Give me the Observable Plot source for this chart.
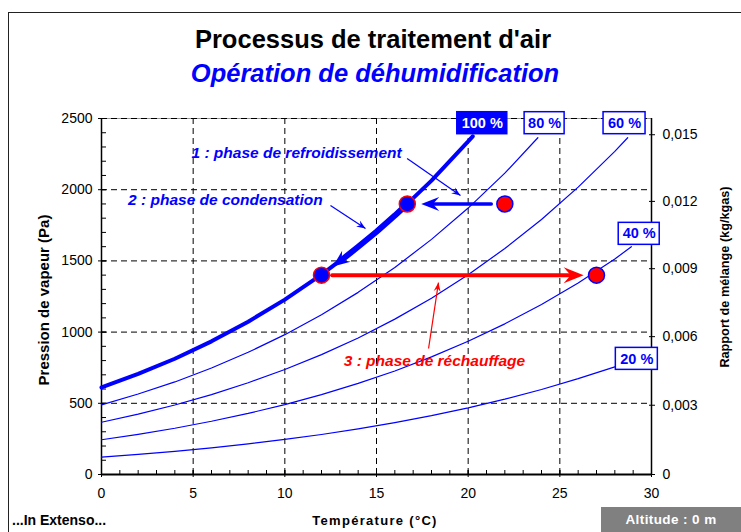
<!DOCTYPE html>
<html><head><meta charset="utf-8">
<script src="https://cdn.jsdelivr.net/npm/d3@7"></script>
<script src="https://cdn.jsdelivr.net/npm/@observablehq/plot@0.6"></script>
<style>
body{margin:0;background:#fff;}
#wrap{position:relative;width:741px;height:532px;overflow:hidden;font-family:"Liberation Sans",Arial,sans-serif;background:#fff;}
.abs{position:absolute;white-space:nowrap;}
#frame{left:8px;top:12px;width:800px;height:600px;border:1.5px solid #222;box-sizing:border-box;}
#title{left:0;width:746px;top:26px;text-align:center;font-weight:bold;font-size:25.5px;line-height:26px;color:#000;}
#sub{left:0;width:750px;top:60px;text-align:center;font-weight:bold;font-style:italic;font-size:25.5px;line-height:26px;color:#0000ff;}
.rot{transform:translate(-50%,-50%) rotate(-90deg);font-weight:bold;color:#000;}
#xlab{left:375px;top:520px;transform:translate(-50%,-50%);font-weight:bold;font-size:13px;letter-spacing:1.3px;}
#ext{left:12px;top:512px;font-weight:bold;font-size:14px;line-height:16px;}
#alt{left:601px;top:507px;width:140px;height:25px;background:#808080;color:#fff;font-weight:bold;font-size:13.5px;line-height:25px;text-align:center;letter-spacing:0.4px;}
#chart{position:absolute;left:0;top:90px;}
</style>
</head><body>
<div id="wrap">
  <div id="frame" class="abs"></div>
  <div id="title" class="abs">Processus de traitement d'air</div>
  <div id="sub" class="abs">Opération de déhumidification</div>
  <div id="chart"></div>
  <div class="abs rot" style="left:43px;top:300px;font-size:15px;">Pression de vapeur (Pa)</div>
  <div class="abs rot" style="left:725px;top:277px;font-size:12.7px;">Rapport de mélange (kg/kgas)</div>
  <div id="xlab" class="abs">Température (°C)</div>
  <div id="ext" class="abs">...In Extenso...</div>
  <div id="alt" class="abs">Altitude : 0 m</div>
</div>
<script>
// ---------- DATA ----------
const hrLabels = ["100 %", "80 %", "60 %", "40 %", "20 %"];
const t100 = [0, 2, 4, 6, 8, 10, 12, 14, 16, 18, 20, 20.25];
const p100 = [611, 706, 813, 935, 1073, 1228, 1403, 1599, 1818, 2064, 2339, 2375];
const t80 = [0, 2, 4, 6, 8, 10, 12, 14, 16, 18, 20, 22, 23.8];
const p80 = [489, 565, 650, 748, 858, 982, 1122, 1279, 1454, 1651, 1871, 2116, 2365];
const t60 = [0, 2, 4, 6, 8, 10, 12, 14, 16, 18, 20, 22, 24, 26, 28, 28.7];
const p60 = [367, 424, 488, 561, 644, 737, 842, 959, 1091, 1238, 1403, 1587, 1791, 2018, 2269, 2365];
const t40 = [0, 2, 4, 6, 8, 10, 12, 14, 16, 18, 20, 22, 24, 26, 28, 28.9];
const p40 = [244, 282, 325, 374, 429, 491, 561, 640, 727, 826, 936, 1058, 1194, 1345, 1513, 1600];
const t20 = [0, 2, 4, 6, 8, 10, 12, 14, 16, 18, 20, 22, 24, 26, 28];
const p20 = [122, 141, 163, 187, 215, 246, 281, 320, 364, 413, 468, 529, 597, 673, 756];

// process points
const ptT = [22, 16.68, 12, 27];
const ptP = [1900, 1900, 1400, 1400];
const ptFill = ["red", "blue", "blue", "red"];
const ptStroke = ["blue", "red", "red", "blue"];

// process arrows
const arrow1T = [21.26, 17.9], arrow1P = [1900, 1900], arrow1Tip = [17.44, 1900];
const arrow2T = [16.68, 16, 15, 14, 13.2], arrow2P = [1900, 1818, 1705, 1599, 1517], arrow2Tip = [12.62, 1460];
const arrow3T = [12.58, 25.8], arrow3P = [1400, 1400], arrow3Tip = [26.3, 1400];

// annotation pointers [x1, y1, x2, y2]
const pointers = [[16.67, 2219, 19.58, 1959], [12.49, 1889, 14.4, 1728], [17.84, 885, 18.38, 1348]];
const pointerColor = ["blue", "blue", "red"];
const annText = ["1 : phase de refroidissement", "2 : phase de condensation", "3 : phase de réchauffage"];
const annT = [10.64, 6.76, 18.16];
const annP = [2261, 1924, 800];
const annColor = ["blue", "blue", "red"];

// curve label boxes
const boxT = [20.77, 24.17, 28.53, 29.33, 29.2];
const boxP = [2467, 2467, 2467, 1690, 812];
const boxW = [50, 40, 42, 41, 42];

// axes ticks
const xTicks = [0, 5, 10, 15, 20, 25, 30];
const yTicks = [0, 500, 1000, 1500, 2000, 2500];
const wTicks = [0, 0.003, 0.006, 0.009, 0.012, 0.015];
const wLabels = ["0", "0,003", "0,006", "0,009", "0,012", "0,015"];
const patm = 101325;

// ---------- LAYOUT ----------
const W = 741, H = 442, mL = 101, mR = 90, mT = 28, mB = 58;
const pw = W - mL - mR, ph = H - mT - mB;
const kx = pw / 30, ky = ph / 2500;
const blue = "#0000ff", red = "#ff0000";

const curves = [[t100, p100], [t80, p80], [t60, p60], [t40, p40], [t20, p20]]
  .map(([t, p], k) => t.map((x, i) => ({T: x, P: p[i], k})));
const pts = ptT.map((x, i) => ({T: x, P: ptP[i], fill: ptFill[i], stroke: ptStroke[i]}));
const line = (t, p) => t.map((x, i) => ({T: x, P: p[i]}));
const ang = (a, b) => Math.atan2(-(b[1] - a[1]) * ky, (b[0] - a[0]) * kx) * 180 / Math.PI;
const head = (L, Wd) => ({draw(ctx) { ctx.moveTo(0, 0); ctx.lineTo(-L, -Wd); ctx.lineTo(-0.65 * L, 0); ctx.lineTo(-L, Wd); ctx.closePath(); }});
const boxes = boxT.map((x, i) => ({
  x1: x - boxW[i] / 2 / kx, x2: x + boxW[i] / 2 / kx,
  y1: boxP[i] - 11 / ky, y2: boxP[i] + 11 / ky, T: x, P: boxP[i], label: hrLabels[i], k: i
}));
const wPa = wTicks.map(w => w * patm / (0.622 + w));

const minorY = d3.range(0, 2501, 100);
const minorX = d3.range(0, 31, 1);

const chart = Plot.plot({
  width: W, height: H, marginLeft: mL, marginRight: mR, marginTop: mT, marginBottom: mB,
  x: {domain: [0, 30], axis: null},
  y: {domain: [0, 2500], axis: null},
  style: {fontFamily: "Liberation Sans, Arial, sans-serif", background: "transparent"},
  marks: [
    Plot.ruleY([2500], {stroke: "#999", strokeWidth: 1}),
    Plot.ruleX([5, 10, 15, 20, 25], {stroke: "#000", strokeWidth: 1, strokeDasharray: "6,4"}),
    Plot.ruleY([500, 1000, 1500, 2000, 2500], {stroke: "#000", strokeWidth: 1, strokeDasharray: "6,4"}),
    // minor ticks
    Plot.tickY(minorY, {y: d => d, stroke: "#000", insetRight: pw - 5, strokeWidth: 1}),
    Plot.tickY(yTicks, {y: d => d, stroke: "#000", insetRight: pw - 5, insetLeft: -3, strokeWidth: 1}),
    Plot.tickX(minorX, {x: d => d, stroke: "#000", insetTop: ph - 4, strokeWidth: 1}),
    Plot.tickX(xTicks, {x: d => d, stroke: "#000", insetTop: ph - 4, insetBottom: -3, strokeWidth: 1}),
    Plot.tickY(wPa, {y: d => d, stroke: "#000", insetLeft: pw - 2, insetRight: -4, strokeWidth: 1}),
    // axis lines
    Plot.ruleX([0], {stroke: "#000", strokeWidth: 1.5}),
    Plot.ruleX([30], {stroke: "#000", strokeWidth: 1.5}),
    Plot.ruleY([0], {stroke: "#000", strokeWidth: 2}),
    // tick labels
    Plot.axisY({ticks: yTicks, tickFormat: d => String(d), tickSize: 0, tickPadding: 9, fontSize: 14, label: null}),
    Plot.axisX({ticks: xTicks, tickFormat: d => String(d), tickSize: 0, tickPadding: 14, fontSize: 14, label: null}),
    Plot.axisY({anchor: "right", ticks: wPa, tickFormat: (d, i) => wLabels[i], tickSize: 0, tickPadding: 11, fontSize: 14, label: null}),
    // curves
    ...curves.map((c, k) => Plot.line(c, {x: "T", y: "P", stroke: blue, strokeWidth: k === 0 ? 4 : 1.2})),
    // pointers
    Plot.link(pointers, {x1: d => d[0], y1: d => d[1], x2: d => d[2], y2: d => d[3], stroke: (d, i) => pointerColor[i], strokeWidth: 1.2}),
    ...pointers.map((d, i) => Plot.dot([d], {x: d => d[2], y: d => d[3], symbol: head(9, 3.5), r: 3, fill: pointerColor[i] === "blue" ? blue : red, stroke: "none", rotate: ang([d[0], d[1]], [d[2], d[3]])})),
    // process arrows
    Plot.line(line(arrow1T, arrow1P), {x: "T", y: "P", stroke: blue, strokeWidth: 3.5}),
    Plot.dot([arrow1Tip], {x: d => d[0], y: d => d[1], symbol: head(18, 7), r: 5, fill: blue, stroke: "none", rotate: 180}),
    Plot.line(line(arrow2T, arrow2P), {x: "T", y: "P", stroke: blue, strokeWidth: 6}),
    Plot.dot([arrow2Tip], {x: d => d[0], y: d => d[1], symbol: head(17, 7), r: 5, fill: blue, stroke: "none",
      rotate: ang([arrow2T[arrow2T.length - 1], arrow2P[arrow2P.length - 1]], arrow2Tip)}),
    Plot.line(line(arrow3T, arrow3P), {x: "T", y: "P", stroke: red, strokeWidth: 4}),
    Plot.dot([arrow3Tip], {x: d => d[0], y: d => d[1], symbol: head(20, 8), r: 5, fill: red, stroke: "none", rotate: 0}),
    // points
    Plot.dot(pts, {x: "T", y: "P", r: 8, fill: d => d.fill === "red" ? red : blue, stroke: d => d.stroke === "red" ? red : blue, strokeWidth: 1.5}),
    // annotation texts
    Plot.text(annText, {x: (d, i) => annT[i], y: (d, i) => annP[i], text: d => d, fill: (d, i) => annColor[i] === "blue" ? blue : red,
      fontSize: 15.5, fontWeight: "bold", fontStyle: "italic", textAnchor: "middle"}),
    // label boxes
    Plot.rect(boxes, {x1: "x1", x2: "x2", y1: "y1", y2: "y2", fill: d => d.k === 0 ? blue : "#fff", stroke: blue, strokeWidth: 1.5}),
    Plot.text(boxes, {x: "T", y: "P", text: "label", fill: d => d.k === 0 ? "#fff" : blue, fontSize: 14.5, fontWeight: "bold"})
  ]
});
document.getElementById("chart").appendChild(chart);
</script>
</body></html>
